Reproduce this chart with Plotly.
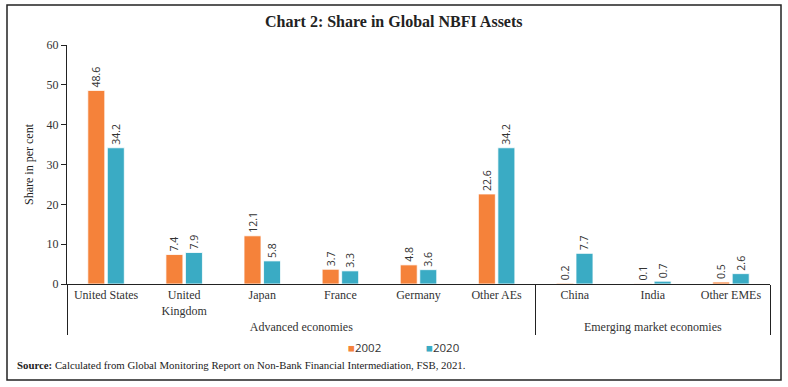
import plotly.graph_objects as go

groups = ["Advanced economies"] * 6 + ["Emerging market economies"] * 3
countries = ["United States", "United<br>Kingdom", "Japan", "France", "Germany",
             "Other AEs", "China", "India", "Other EMEs"]
v2002 = [48.6, 7.4, 12.1, 3.7, 4.8, 22.6, 0.2, 0.1, 0.5]
v2020 = [34.2, 7.9, 5.8, 3.3, 3.6, 34.2, 7.7, 0.7, 2.6]
series_names = ["2002", "2020"]
yticks = [0, 10, 20, 30, 40, 50, 60]

W, H = 788, 387
L, R, T, B = 67, 18, 45, 103
pw, ph = W - L - R, H - T - B

def px(x):
    return (x - L) / pw

def py(y):
    return (H - B - y) / ph

serif = "Liberation Serif"
sans = "Open Sans"
colors = {"2002": "#F5823A", "2020": "#3AABC4"}

fig = go.Figure()
for name, vals in zip(series_names, [v2002, v2020]):
    fig.add_trace(go.Bar(
        x=[groups, countries], y=vals, name=name, showlegend=False,
        marker=dict(color=colors[name], line=dict(color="white", width=0.8)),
        text=[f"{v:.1f}" for v in vals], textposition="outside", textangle=-90,
        constraintext="none",
        textfont=dict(family=sans, size=10.5, color="#333"),
        cliponaxis=False,
    ))

fig.update_layout(
    width=W, height=H,
    margin=dict(l=L, r=R, t=T, b=B),
    paper_bgcolor="white", plot_bgcolor="white",
    barmode="group", bargap=0.5, bargroupgap=0.13,
    font=dict(family=serif, size=12, color="#333"),
    showlegend=False,
)
fig.update_yaxes(range=[0, 60], tickvals=yticks, showgrid=False, zeroline=False,
                 showline=True, linecolor="#222", linewidth=1, automargin=False,
                 ticks="outside", ticklen=5, tickcolor="#222",
                 tickfont=dict(family=serif, size=12, color="#333"),
                 title=dict(text="Share in per cent", font=dict(family=serif, size=12, color="#222"),
                            standoff=10))
fig.update_xaxes(type="multicategory", showgrid=False, showline=True, linecolor="#222",
                 linewidth=1, showdividers=True, dividercolor="#222", dividerwidth=1,
                 automargin=False,
                 tickfont=dict(family=serif, size=12, color="#333"))

# legend entries
for name, xpos in zip(series_names, [346, 424]):
    fig.add_annotation(text=f"<span style='color:{colors[name]}'>■</span>{name}",
                       xref="paper", yref="paper", x=px(xpos), y=py(347),
                       xanchor="left", yanchor="middle", showarrow=False,
                       font=dict(family=sans, size=11.5, color="#333"))

fig.add_annotation(text="<b>Chart 2: Share in Global NBFI Assets</b>", xref="paper", yref="paper",
                   x=px(394), y=py(22), xanchor="center", yanchor="middle", showarrow=False,
                   font=dict(family=serif, size=16, color="#222"))
fig.add_annotation(text="<b>Source:</b> Calculated from Global Monitoring Report on Non-Bank Financial Intermediation, FSB, 2021.",
                   xref="paper", yref="paper", x=px(15), y=py(365), xanchor="left", yanchor="middle",
                   showarrow=False, font=dict(family=serif, size=10.8, color="#222"))
fig.add_shape(type="rect", xref="paper", yref="paper", x0=px(7), x1=px(781), y0=py(380), y1=py(5),
              line=dict(color="#222", width=1.5), fillcolor="rgba(0,0,0,0)", layer="above")

fig.write_html("out.html", config={"displayModeBar": False},
               post_script="document.body.style.margin='0';document.body.style.overflow='hidden';")
